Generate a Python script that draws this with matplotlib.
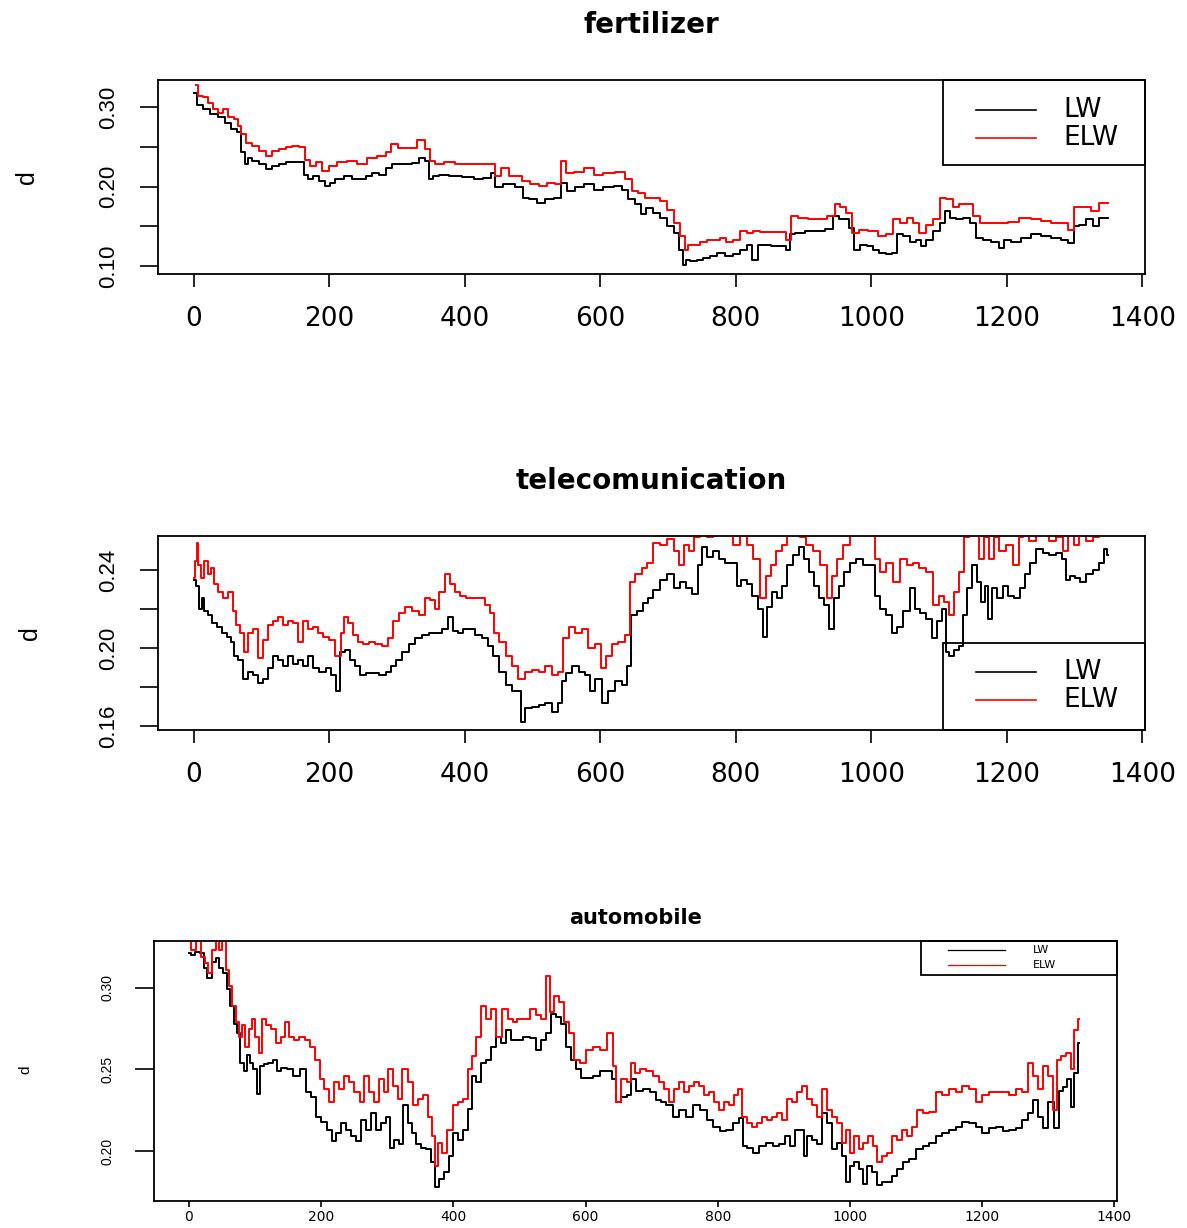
import matplotlib

matplotlib.use("Agg")
import matplotlib.pyplot as plt
from matplotlib.lines import Line2D
from matplotlib.patches import Rectangle

# (t, d) readings for each sector, LW and ELW estimators
FERT_LW = [(0, .318), (8, .302), (18, .297), (30, .291), (42, .287), (50, .280), (59, .272), (67, .268),
           (73, .243), (78, .228), (82, .236), (91, .232), (101, .228), (111, .222), (121, .226), (131, .228),
           (140, .231), (150, .231), (160, .231), (165, .215), (172, .209), (180, .213), (190, .207), (197, .201),
           (204, .205), (214, .209), (229, .213), (239, .210), (249, .209), (258, .213), (268, .217), (278, .215),
           (288, .224), (298, .229), (307, .228), (318, .229), (327, .230), (337, .236), (344, .232), (349, .209),
           (357, .213), (366, .214), (386, .213), (406, .212), (420, .209), (435, .211), (443, .217), (447, .199),
           (465, .203), (484, .199), (489, .186), (499, .184), (514, .180), (524, .185), (538, .186), (546, .205),
           (556, .194), (568, .199), (583, .203), (597, .196), (612, .199), (627, .201), (637, .196), (646, .184),
           (656, .178), (664, .165), (671, .173), (683, .167), (693, .161), (703, .150), (713, .142), (720, .121),
           (725, .102), (727, .108), (737, .106), (747, .108), (757, .110), (767, .113), (777, .117), (791, .113),
           (801, .115), (811, .121), (821, .127), (826, .108), (831, .108), (833, .127), (845, .127), (860, .125),
           (870, .125), (877, .121), (882, .140), (894, .142), (909, .144), (924, .144), (939, .147), (948, .163),
           (956, .159), (963, .159), (971, .148), (978, .121), (988, .127), (998, .125), (1007, .121), (1017, .117),
           (1027, .115), (1034, .117), (1042, .140), (1052, .138), (1061, .131), (1071, .133), (1076, .125),
           (1086, .133), (1096, .144), (1106, .154), (1113, .169), (1120, .161), (1130, .159), (1140, .161),
           (1150, .154), (1160, .135), (1170, .133), (1184, .131), (1192, .123), (1199, .133), (1214, .131),
           (1228, .135), (1243, .140), (1258, .138), (1273, .136), (1287, .133), (1295, .129), (1302, .150),
           (1312, .152), (1322, .159), (1332, .150), (1341, .161), (1349, .161)]
FERT_ELW = [(3, .328), (10, .314), (18, .312), (25, .305), (32, .297), (40, .293), (47, .297), (55, .287),
            (62, .285), (67, .276), (72, .266), (82, .255), (91, .251), (101, .245), (111, .238), (121, .245),
            (131, .247), (140, .250), (150, .251), (160, .250), (167, .234), (175, .226), (185, .231), (194, .220),
            (204, .226), (219, .231), (234, .232), (249, .229), (263, .236), (278, .238), (288, .243), (295, .253),
            (307, .249), (322, .249), (337, .259), (344, .247), (352, .232), (361, .229), (376, .231), (396, .229),
            (416, .228), (435, .228), (443, .229), (447, .213), (460, .224), (470, .213), (479, .213), (489, .207),
            (504, .203), (514, .201), (528, .205), (538, .203), (546, .232), (553, .217), (568, .219), (583, .224),
            (597, .215), (612, .217), (632, .218), (641, .209), (651, .194), (661, .192), (671, .186), (683, .186),
            (693, .182), (703, .171), (713, .154), (722, .138), (727, .121), (732, .127), (742, .127), (752, .131),
            (762, .133), (772, .133), (781, .135), (791, .131), (801, .133), (811, .144), (821, .142), (831, .144),
            (840, .143), (855, .143), (870, .143), (877, .133), (885, .163), (899, .161), (914, .159), (929, .159),
            (941, .163), (951, .178), (958, .174), (968, .167), (976, .142), (988, .146), (1002, .144), (1017, .138),
            (1027, .140), (1037, .159), (1047, .154), (1057, .161), (1066, .154), (1076, .142), (1086, .152),
            (1096, .159), (1106, .186), (1115, .184), (1125, .174), (1135, .178), (1145, .178), (1155, .163),
            (1165, .154), (1179, .154), (1194, .154), (1209, .155), (1228, .161), (1243, .159), (1258, .157),
            (1273, .154), (1287, .154), (1295, .146), (1302, .174), (1317, .174), (1332, .170), (1341, .180),
            (1350, .179)]

TEL_LW = [(0, .235), (5, .232), (10, .220), (13, .226), (18, .219), (23, .217), (30, .213), (37, .211),
          (45, .208), (52, .206), (57, .203), (61, .196), (69, .194), (77, .184), (84, .188), (91, .186),
          (99, .182), (106, .184), (113, .190), (121, .196), (128, .194), (136, .191), (143, .196), (150, .192),
          (158, .194), (165, .191), (172, .196), (180, .190), (190, .188), (199, .190), (207, .186), (212, .178),
          (219, .198), (226, .199), (234, .194), (241, .191), (249, .186), (258, .187), (268, .187), (278, .186),
          (288, .188), (295, .191), (303, .194), (312, .198), (322, .202), (332, .205), (342, .207), (352, .208),
          (361, .208), (371, .210), (379, .216), (386, .209), (393, .208), (401, .210), (411, .210), (420, .207),
          (430, .205), (438, .201), (445, .196), (455, .188), (465, .181), (474, .178), (482, .178), (484, .162),
          (494, .169), (504, .170), (514, .171), (524, .172), (533, .167), (541, .172), (546, .183), (553, .187),
          (563, .191), (573, .188), (583, .186), (587, .178), (597, .184), (607, .172), (617, .178), (627, .183),
          (637, .181), (641, .191), (649, .217), (659, .219), (668, .223), (673, .226), (683, .230), (693, .235),
          (703, .238), (713, .231), (722, .234), (732, .231), (740, .228), (747, .243), (754, .252), (762, .247),
          (772, .250), (779, .246), (789, .244), (799, .244), (804, .232), (811, .235), (821, .233), (828, .227),
          (836, .220), (843, .206), (850, .221), (858, .229), (865, .226), (872, .232), (880, .243), (890, .248),
          (897, .252), (904, .246), (912, .239), (919, .232), (926, .226), (934, .222), (941, .210), (948, .226),
          (956, .232), (963, .239), (973, .244), (983, .246), (993, .243), (1002, .243), (1010, .227),
          (1017, .220), (1027, .217), (1034, .208), (1042, .211), (1052, .219), (1061, .231), (1069, .220),
          (1076, .218), (1086, .215), (1093, .205), (1101, .214), (1108, .220), (1112, .198), (1118, .196),
          (1125, .199), (1133, .201), (1138, .217), (1145, .231), (1152, .243), (1160, .234), (1165, .224),
          (1170, .232), (1174, .215), (1182, .231), (1189, .226), (1199, .232), (1206, .227), (1216, .226),
          (1223, .231), (1231, .238), (1238, .244), (1248, .251), (1258, .249), (1268, .248), (1278, .249),
          (1285, .246), (1290, .235), (1297, .237), (1305, .236), (1312, .234), (1322, .238), (1332, .240),
          (1341, .244), (1346, .251), (1350, .248)]
TEL_ELW = [(0, .236), (3, .245), (5, .254), (8, .243), (13, .236), (18, .245), (23, .238), (28, .241),
           (32, .233), (40, .229), (47, .226), (55, .229), (59, .219), (64, .212), (72, .208), (77, .198),
           (84, .208), (91, .210), (99, .195), (106, .204), (113, .212), (121, .214), (128, .216), (136, .212),
           (143, .214), (150, .213), (158, .203), (165, .214), (172, .210), (180, .211), (187, .208), (194, .206),
           (204, .204), (214, .196), (219, .208), (224, .216), (231, .213), (239, .207), (246, .203), (253, .202),
           (263, .203), (273, .202), (283, .201), (290, .205), (298, .214), (307, .218), (317, .221), (327, .219),
           (337, .217), (344, .226), (352, .225), (359, .220), (366, .229), (374, .238), (381, .233), (389, .229),
           (396, .227), (406, .226), (416, .226), (425, .226), (433, .222), (440, .218), (447, .208), (455, .203),
           (465, .196), (474, .191), (484, .184), (494, .188), (504, .189), (514, .188), (524, .191), (533, .186),
           (541, .188), (548, .205), (558, .211), (568, .208), (578, .210), (587, .200), (597, .202), (605, .190),
           (612, .196), (621, .202), (632, .203), (641, .207), (646, .234), (656, .238), (666, .241), (673, .244),
           (683, .254), (693, .253), (703, .256), (713, .250), (720, .243), (727, .253), (735, .250), (742, .257),
           (752, .262), (762, .257), (772, .262), (781, .262), (791, .258), (801, .253), (811, .258), (821, .253),
           (831, .246), (840, .226), (848, .237), (855, .243), (865, .250), (872, .253), (880, .262), (890, .262),
           (899, .257), (909, .253), (919, .250), (929, .243), (939, .226), (946, .237), (953, .246), (963, .253),
           (973, .258), (983, .262), (993, .262), (1002, .262), (1010, .246), (1017, .239), (1027, .244),
           (1037, .234), (1047, .246), (1057, .243), (1066, .244), (1076, .241), (1086, .239), (1096, .222),
           (1103, .227), (1111, .224), (1118, .217), (1125, .229), (1133, .239), (1140, .257), (1147, .262),
           (1155, .258), (1162, .246), (1170, .257), (1177, .246), (1184, .257), (1194, .250), (1204, .253),
           (1214, .243), (1221, .257), (1228, .262), (1238, .255), (1248, .262), (1258, .262), (1268, .255),
           (1278, .257), (1287, .250), (1295, .262), (1302, .253), (1312, .262), (1322, .255), (1332, .257),
           (1341, .259), (1350, .262)]

AUTO_LW = [(0, .321), (5, .320), (12, .322), (20, .321), (25, .312), (31, .306), (38, .316), (43, .318),
           (48, .312), (55, .309), (60, .299), (65, .289), (70, .278), (75, .272), (80, .254), (85, .249),
           (90, .259), (95, .254), (100, .250), (105, .235), (110, .252), (116, .253), (123, .254), (131, .256),
           (136, .249), (143, .251), (153, .250), (163, .246), (174, .250), (181, .236), (189, .233), (196, .221),
           (204, .218), (214, .213), (219, .206), (226, .211), (234, .217), (241, .213), (249, .209), (257, .206),
           (264, .219), (271, .213), (279, .223), (287, .213), (294, .217), (302, .221), (307, .202), (314, .207),
           (322, .204), (327, .228), (335, .217), (340, .211), (347, .204), (355, .202), (362, .201), (370, .193),
           (375, .178), (382, .183), (390, .187), (397, .197), (403, .211), (410, .207), (418, .213), (425, .226),
           (430, .246), (438, .242), (445, .254), (453, .256), (460, .264), (468, .270), (475, .266), (483, .274),
           (491, .268), (501, .268), (511, .270), (521, .269), (528, .262), (536, .268), (544, .272), (551, .284),
           (559, .282), (566, .278), (574, .264), (581, .256), (589, .250), (596, .245), (606, .245), (617, .246),
           (627, .249), (637, .249), (644, .244), (649, .230), (657, .233), (667, .234), (672, .244), (682, .237),
           (692, .238), (702, .236), (710, .231), (717, .230), (727, .228), (737, .221), (747, .225), (757, .221),
           (768, .228), (778, .225), (788, .219), (798, .215), (808, .212), (818, .213), (828, .217), (835, .220),
           (841, .203), (848, .202), (858, .199), (868, .203), (878, .205), (888, .203), (898, .204), (906, .209),
           (914, .203), (921, .213), (929, .213), (931, .197), (939, .209), (946, .207), (954, .204), (961, .223),
           (969, .217), (976, .201), (984, .205), (992, .197), (997, .181), (1002, .191), (1009, .193),
           (1017, .189), (1024, .180), (1029, .191), (1037, .187), (1044, .179), (1052, .181), (1060, .181),
           (1067, .185), (1075, .189), (1085, .193), (1095, .195), (1105, .201), (1115, .203), (1125, .205),
           (1135, .209), (1145, .211), (1155, .213), (1165, .215), (1175, .218), (1185, .217), (1195, .215),
           (1206, .211), (1216, .214), (1226, .215), (1236, .212), (1246, .213), (1256, .214), (1266, .219),
           (1274, .223), (1281, .231), (1289, .221), (1296, .214), (1304, .230), (1314, .214), (1319, .237),
           (1326, .239), (1331, .244), (1337, .227), (1342, .248), (1347, .266)]
AUTO_ELW = [(0, .329), (7, .323), (15, .329), (22, .319), (27, .315), (32, .309), (38, .323), (43, .329),
            (48, .323), (53, .330), (58, .311), (63, .301), (68, .289), (73, .279), (78, .270), (83, .277),
            (88, .264), (93, .275), (98, .281), (103, .270), (108, .260), (113, .281), (121, .277), (128, .275),
            (136, .266), (143, .270), (148, .279), (156, .270), (163, .268), (171, .270), (179, .268), (186, .264),
            (194, .256), (201, .244), (209, .238), (216, .230), (224, .242), (231, .238), (239, .246), (246, .242),
            (254, .236), (262, .230), (269, .246), (277, .236), (284, .230), (292, .244), (299, .236), (304, .250),
            (312, .240), (319, .232), (327, .250), (335, .242), (342, .228), (350, .232), (357, .234), (365, .221),
            (370, .209), (375, .191), (380, .205), (387, .199), (395, .213), (403, .228), (410, .230), (418, .232),
            (425, .250), (430, .258), (438, .270), (445, .289), (453, .281), (460, .287), (470, .270), (478, .287),
            (486, .281), (493, .279), (501, .281), (511, .281), (521, .287), (528, .283), (536, .281), (544, .307),
            (549, .285), (556, .295), (564, .291), (571, .279), (579, .272), (586, .256), (596, .254), (606, .262),
            (617, .264), (627, .262), (639, .272), (644, .252), (649, .230), (657, .244), (667, .242), (672, .254),
            (679, .248), (687, .250), (697, .249), (707, .246), (715, .242), (722, .238), (730, .230), (737, .238),
            (745, .242), (752, .236), (760, .240), (768, .242), (775, .240), (783, .234), (790, .236), (798, .230),
            (805, .225), (813, .230), (820, .228), (828, .234), (833, .238), (841, .221), (848, .217), (856, .215),
            (863, .217), (871, .221), (878, .219), (886, .221), (893, .223), (901, .219), (908, .232), (916, .230),
            (924, .236), (931, .240), (939, .232), (946, .228), (954, .221), (961, .238), (969, .225), (976, .221),
            (984, .217), (992, .205), (997, .213), (1002, .199), (1009, .209), (1017, .201), (1024, .205),
            (1032, .209), (1039, .203), (1044, .193), (1052, .197), (1060, .199), (1067, .209), (1075, .207),
            (1082, .213), (1090, .209), (1097, .215), (1105, .225), (1115, .223), (1125, .224), (1135, .236),
            (1145, .234), (1155, .238), (1165, .236), (1175, .240), (1185, .238), (1195, .230), (1206, .234),
            (1216, .236), (1226, .236), (1236, .236), (1246, .234), (1256, .238), (1266, .236), (1274, .254),
            (1281, .246), (1289, .238), (1296, .252), (1304, .246), (1311, .225), (1316, .256), (1324, .258),
            (1331, .260), (1337, .250), (1342, .274), (1347, .281)]

X_TICKS = [0, 200, 400, 600, 800, 1000, 1200, 1400]
FERT_YTICKS = [0.10, 0.15, 0.20, 0.25, 0.30]
FERT_YLABELS = ["0.10", "", "0.20", "", "0.30"]
TEL_YTICKS = [0.16, 0.18, 0.20, 0.22, 0.24]
TEL_YLABELS = ["0.16", "", "0.20", "", "0.24"]
AUTO_YTICKS = [0.20, 0.25, 0.30]
AUTO_YLABELS = ["0.20", "0.25", "0.30"]
SERIES_NAMES = ["LW", "ELW"]
SERIES_COLORS = ["black", "red"]

BIG = dict(title=20, title_pad=34, xtick=19, ytick=16, ylab=18, key=19,
           xlen=9.4, ylen=13, xpad=13.5, ypad=15, line=1.4, key_line=1.2)
SMALL = dict(title=15, title_pad=12, xtick=10, ytick=10, ylab=11, key=8,
             xlen=4.3, ylen=13.7, xpad=2, ypad=15, line=1.4, key_line=0.9)


def _xy(pairs):
    return [p[0] for p in pairs], [p[1] for p in pairs]


def draw_key(ax, box, rows_y, line_span, text_x, st):
    x0, y0, x1, y1 = box
    ax.add_patch(Rectangle((x0, y0), x1 - x0, y1 - y0, transform=ax.transAxes, fill=False,
                           edgecolor="black", linewidth=1.3, clip_on=False, zorder=5))
    for y, name, color in zip(rows_y, SERIES_NAMES, SERIES_COLORS):
        ax.add_line(Line2D(line_span, [y, y], transform=ax.transAxes, color=color,
                           linewidth=st["key_line"], clip_on=False, zorder=5))
        ax.text(text_x, y, name, transform=ax.transAxes, fontsize=st["key"],
                family="DejaVu Sans", ha="left", va="center", zorder=5)


def draw_panel(fig, rect, title, lw, elw, ylim, yticks, ylabels, ylab_y, st):
    ax = fig.add_axes(rect)
    for pairs, color in zip((lw, elw), SERIES_COLORS):
        xs, ys = _xy(pairs)
        ax.plot(xs, ys, color=color, linewidth=st["line"], drawstyle="steps-mid")
    ax.set_xlim(-53, 1404)
    ax.set_ylim(*ylim)
    ax.set_xticks(X_TICKS)
    ax.set_xticklabels([str(t) for t in X_TICKS], fontsize=st["xtick"], family="DejaVu Sans")
    ax.set_yticks(yticks)
    ax.set_yticklabels(ylabels, fontsize=st["ytick"], family="Liberation Sans",
                       rotation=90, va="center")
    ax.tick_params(axis="x", length=st["xlen"], width=1.2, pad=st["xpad"], direction="out")
    ax.tick_params(axis="y", length=st["ylen"], width=1.2, pad=st["ypad"], direction="out")
    for side in ax.spines.values():
        side.set_linewidth(1.3)
        side.set_color("black")
    ax.set_title(title, fontsize=st["title"], fontweight="bold", family="DejaVu Sans",
                 pad=st["title_pad"])
    ax.set_ylabel("d", fontsize=st["ylab"], family="Liberation Sans", va="center")
    ax.yaxis.set_label_coords(ylab_y[0], ylab_y[1])
    return ax


fig = plt.figure(figsize=(11.87, 12.28), dpi=100)

ax1 = draw_panel(fig, [0.1331, 0.7769, 0.8315, 0.1580], "fertilizer", FERT_LW, FERT_ELW,
                 (0.0903, 0.334), FERT_YTICKS, FERT_YLABELS, (-0.1327, 0.5), BIG)
draw_key(ax1, (0.795, 0.562, 1.0, 1.0), (0.845, 0.701), (0.829, 0.890), 0.917, BIG)

ax2 = draw_panel(fig, [0.1331, 0.4055, 0.8315, 0.1580], "telecomunication", TEL_LW, TEL_ELW,
                 (0.1579, 0.2577), TEL_YTICKS, TEL_YLABELS, (-0.1297, 0.5), BIG)
draw_key(ax2, (0.795, 0.0, 1.0, 0.448), (0.300, 0.155), (0.829, 0.890), 0.917, BIG)

ax3 = draw_panel(fig, [0.1297, 0.0220, 0.8113, 0.2117], "automobile", AUTO_LW, AUTO_ELW,
                 (0.1694, 0.3286), AUTO_YTICKS, AUTO_YLABELS, (-0.134, 0.504), SMALL)
draw_key(ax3, (0.796, 0.869, 1.0, 1.0), (0.964, 0.906), (0.825, 0.884), 0.913, SMALL)

fig.savefig("out.png", dpi=100)
plt.close(fig)
